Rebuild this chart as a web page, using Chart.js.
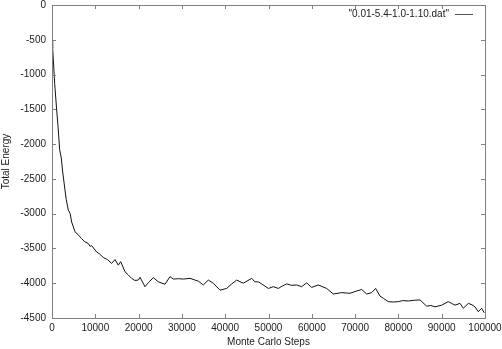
<!DOCTYPE html>
<html>
<head>
<meta charset="utf-8">
<script src="https://cdn.jsdelivr.net/npm/chart.js@4/dist/chart.umd.min.js"></script>
<style>
  html, body { margin: 0; padding: 0; background: #fff; }
  #wrap { width: 502px; height: 349px; }
</style>
</head>
<body>
<div id="wrap"><canvas id="c" width="502" height="349"></canvas></div>
<script>
// Monte Carlo run: total energy vs. step.
const SERIES_LABEL = '"0.01-5.4-1.0-1.10.dat"';
const X_TITLE = "Monte Carlo Steps";
const Y_TITLE = "Total Energy";

const steps = [
  0, 150, 620, 1080, 1400, 1770, 2150, 2470, 3000, 3300, 3770, 4200, 4540, 5310, 6000,
  6850, 7500, 8390, 8800, 9160, 10300, 11000, 11850, 12800, 13780, 14550, 15310, 15860,
  16860, 17600, 18400, 19100, 19940, 20330, 21480, 22300, 23400, 24560, 26100, 27250,
  28010, 29200, 30320, 31870, 32800, 33790, 34940, 36100, 37250, 38800, 40340, 41500,
  42650, 44180, 46120, 46880, 47650, 48430, 49960, 51110, 52260, 53200, 54190, 55300,
  56500, 57650, 58810, 59960, 61500, 63430, 64970, 66900, 68820, 69980, 71520, 72670,
  73830, 74740, 75750, 76600, 77660, 78800, 79970, 81000, 82280, 83700, 84990, 86530,
  87500, 88450, 89990, 91520, 92300, 93070, 94220, 94990, 96150, 97000, 97690, 98450,
  99220, 99830,
];
const energy = [
  -500, -620, -1130, -1510, -1750, -2080, -2200, -2400, -2660, -2800, -2950, -3000, -3120, -3260, -3300,
  -3360, -3400, -3430, -3470, -3460, -3550, -3580, -3630, -3660, -3715, -3660, -3740, -3690,
  -3835, -3880, -3930, -3960, -3955, -3915, -4050, -3990, -3920, -3980, -4015, -3905,
  -3940, -3935, -3940, -3930, -3950, -3970, -4025, -3955, -4000, -4100, -4075, -4010,
  -3955, -4000, -3930, -3980, -3980, -4010, -4075, -4050, -4075, -4040, -4010, -4030,
  -4025, -4050, -3995, -4060, -4025, -4075, -4155, -4135, -4145, -4120, -4090, -4155,
  -4135, -4075, -4185, -4220, -4265, -4270, -4265, -4250, -4255, -4245, -4240, -4330,
  -4320, -4340, -4315, -4265, -4290, -4315, -4290, -4360, -4290, -4310, -4340, -4410,
  -4360, -4425,
];

const xTicks = [0, 10000, 20000, 30000, 40000, 50000, 60000, 70000, 80000, 90000, 100000];
const yTicks = [0, -500, -1000, -1500, -2000, -2500, -3000, -3500, -4000, -4500];

const FONT = { family: "'Liberation Sans', Arial, sans-serif", size: 10 };
const TEXT = "#1a1a1a";
const FRAME = "#808080";

// gnuplot style frame: box plus inward ticks mirrored on all four sides
const framePlugin = {
  id: "frame",
  afterDatasetsDraw(chart) {
    const { ctx, chartArea: a, scales } = chart;
    ctx.save();
    ctx.strokeStyle = FRAME;
    ctx.lineWidth = 1;
    ctx.strokeRect(Math.round(a.left) + 0.5, Math.round(a.top) + 0.5,
      Math.round(a.right - a.left), Math.round(a.bottom - a.top));
    ctx.beginPath();
    xTicks.forEach((v) => {
      const x = Math.round(scales.x.getPixelForValue(v)) + 0.5;
      ctx.moveTo(x, a.bottom); ctx.lineTo(x, a.bottom - 4);
      ctx.moveTo(x, a.top); ctx.lineTo(x, a.top + 4);
    });
    yTicks.forEach((v) => {
      const y = Math.round(scales.y.getPixelForValue(v)) + 0.5;
      ctx.moveTo(a.left, y); ctx.lineTo(a.left + 4, y);
      ctx.moveTo(a.right, y); ctx.lineTo(a.right - 4, y);
    });
    ctx.stroke();

    // key in the top right corner
    ctx.font = `${FONT.size}px ${FONT.family}`;
    ctx.fillStyle = TEXT;
    ctx.textAlign = "right";
    ctx.textBaseline = "middle";
    ctx.fillText(SERIES_LABEL, a.right - 36, a.top + 9);
    ctx.strokeStyle = "#555";
    ctx.beginPath();
    ctx.moveTo(a.right - 30, a.top + 9.5);
    ctx.lineTo(a.right - 12, a.top + 9.5);
    ctx.stroke();
    ctx.restore();
  },
};

new Chart(document.getElementById("c"), {
  type: "line",
  data: {
    datasets: [{
      label: SERIES_LABEL,
      data: steps.map((s, i) => ({ x: s, y: energy[i] })),
      borderColor: "#111",
      borderWidth: 1,
      pointRadius: 0,
      tension: 0,
      fill: false,
    }],
  },
  options: {
    responsive: false,
    animation: false,
    events: [],
    layout: { padding: { top: 5, right: 17, left: 0, bottom: 0 } },
    plugins: { legend: { display: false }, tooltip: { enabled: false } },
    scales: {
      x: {
        type: "linear", min: 0, max: 100000,
        grid: { display: false, drawTicks: false },
        border: { display: false },
        afterBuildTicks: (s) => { s.ticks = xTicks.map((v) => ({ value: v })); },
        afterFit: (s) => { s.height = 31; s.paddingLeft = 0; s.paddingRight = 0; },
        ticks: { color: TEXT, font: FONT, padding: 4, maxRotation: 0, autoSkip: false, callback: (v) => String(v) },
        title: { display: true, text: X_TITLE, color: TEXT, font: FONT, padding: { top: 0, bottom: 1 } },
      },
      y: {
        type: "linear", min: -4500, max: 0,
        grid: { display: false, drawTicks: false },
        border: { display: false },
        afterBuildTicks: (s) => { s.ticks = yTicks.map((v) => ({ value: v })); },
        afterFit: (s) => { s.width = 52; s.paddingTop = 0; s.paddingBottom = 0; },
        ticks: { color: TEXT, font: FONT, padding: 6, autoSkip: false, callback: (v) => String(v) },
        title: { display: true, text: Y_TITLE, color: TEXT, font: FONT, padding: 0 },
      },
    },
  },
  plugins: [framePlugin],
});
</script>
</body>
</html>
